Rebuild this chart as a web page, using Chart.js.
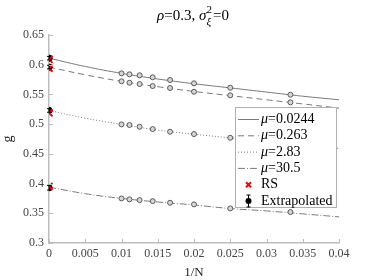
<!DOCTYPE html>
<html>
<head>
<meta charset="utf-8">
<script src="https://cdn.jsdelivr.net/npm/chart.js@4"></script>
<style>
  html, body { margin: 0; padding: 0; background: #fff; }
  #wrap { width: 374px; height: 280px; }
</style>
</head>
<body>
<div id="wrap"><canvas id="myChart" width="374" height="280"></canvas></div>
<script>
// 1/N of the simulated sizes (N = 100, 90, 80, 70, 60, 50, 40, 30)
const invN = [0.0100, 0.0111, 0.0125, 0.0143, 0.0167, 0.0200, 0.0250, 0.0333];
const muLabels = ['0.0244', '0.263', '2.83', '30.5'];

// simulated g at each 1/N
const gMu1 = [0.5855, 0.5838, 0.5822, 0.5788, 0.5742, 0.5687, 0.5613, 0.5495];
const gMu2 = [0.5721, 0.5697, 0.5675, 0.5641, 0.5608, 0.5545, 0.5485, 0.5367];
const gMu3 = [0.4996, 0.4985, 0.4956, 0.4917, 0.4872, 0.4833, 0.4771, 0.4680];
const gMu4 = [0.3750, 0.3734, 0.3722, 0.3705, 0.3677, 0.3650, 0.3582, 0.3520];

// fitted curves
const fitX = [0, 0.005, 0.01, 0.015, 0.02, 0.025, 0.03, 0.035, 0.04];
const fitMu1 = [0.611, 0.597, 0.5855, 0.576, 0.568, 0.561, 0.554, 0.547, 0.541];
const fitMu2 = [0.596, 0.583, 0.572, 0.563, 0.555, 0.548, 0.541, 0.534, 0.527];
const fitMu3 = [0.523, 0.510, 0.4996, 0.490, 0.483, 0.477, 0.471, 0.465, 0.459];
const fitMu4 = [0.394, 0.383, 0.375, 0.369, 0.364, 0.358, 0.354, 0.349, 0.344];

// values at 1/N = 0
const extrapG = [0.611, 0.596, 0.523, 0.393];
const extrapErr = [0.003, 0.003, 0.003, 0.004];
const rsG = [0.609, 0.594, 0.519, 0.395];

const xTicks = [0, 0.005, 0.01, 0.015, 0.02, 0.025, 0.03, 0.035, 0.04];
const yTicks = [0.3, 0.35, 0.4, 0.45, 0.5, 0.55, 0.6, 0.65];

const serif = '"Liberation Serif", "DejaVu Serif", serif';
const lineGrey = '#7a7a7a';
const dashes = [[], [6, 4], [1, 2], [7, 2, 1, 2]];

function pts(xs, ys) {
    return xs.map((x, i) => ({ x: x, y: ys[i] }));
}

const fits = [fitMu1, fitMu2, fitMu3, fitMu4];
const sims = [gMu1, gMu2, gMu3, gMu4];

let datasets = [];
// RS drawn on top, then extrapolated, then simulation points, then fits
datasets.push({
    label: 'RS',
    order: 0,
    data: rsG.map(g => ({ x: 0, y: g })),
    showLine: false,
    pointStyle: 'crossRot',
    pointRadius: 5,
    borderColor: '#ff0000',
    borderWidth: 2
});
datasets.push({
    label: 'Extrapolated',
    order: 1,
    data: extrapG.map(g => ({ x: 0, y: g })),
    showLine: false,
    pointStyle: 'circle',
    pointRadius: 3.2,
    backgroundColor: '#000',
    borderColor: '#000',
    borderWidth: 1
});
sims.forEach((s, i) => {
    datasets.push({
        label: 'sim' + i,
        order: 2,
        data: pts(invN, s),
        showLine: false,
        pointStyle: 'circle',
        pointRadius: 2.5,
        borderColor: '#5a5a5a',
        backgroundColor: '#d6d6d6',
        borderWidth: 1
    });
});
fits.forEach((f, i) => {
    datasets.push({
        label: 'μ=' + muLabels[i],
        order: 3,
        data: pts(fitX, f),
        showLine: true,
        borderColor: lineGrey,
        borderWidth: 1,
        borderDash: dashes[i],
        tension: 0.4,
        pointRadius: 0,
        fill: false
    });
});

// error bars on extrapolated points, inward ticks, title, legend
const extras = {
    id: 'extras',
    afterDatasetsDraw(chart) {
        const ctx = chart.ctx;
        const xs = chart.scales.x, ys = chart.scales.y;
        ctx.save();
        ctx.strokeStyle = '#000';
        ctx.lineWidth = 1;
        extrapG.forEach((g, i) => {
            const px = xs.getPixelForValue(0);
            const top = ys.getPixelForValue(g + extrapErr[i]);
            const bot = ys.getPixelForValue(g - extrapErr[i]);
            ctx.beginPath();
            ctx.moveTo(px, top); ctx.lineTo(px, bot);
            ctx.moveTo(px - 2, top); ctx.lineTo(px + 2, top);
            ctx.moveTo(px - 2, bot); ctx.lineTo(px + 2, bot);
            ctx.stroke();
        });
        ctx.restore();
    },
    afterDraw(chart) {
        const ctx = chart.ctx;
        const xs = chart.scales.x, ys = chart.scales.y;
        const area = chart.chartArea;
        ctx.save();
        // inward ticks
        ctx.strokeStyle = '#bdbdbd';
        ctx.lineWidth = 1;
        xTicks.forEach(v => {
            const px = Math.round(xs.getPixelForValue(v)) + 0.5;
            ctx.beginPath();
            ctx.moveTo(px, area.bottom); ctx.lineTo(px, area.bottom - 4);
            ctx.stroke();
        });
        yTicks.forEach(v => {
            const py = Math.round(ys.getPixelForValue(v)) + 0.5;
            ctx.beginPath();
            ctx.moveTo(area.left, py); ctx.lineTo(area.left + 4, py);
            ctx.stroke();
        });

        // title with super/subscript
        ctx.fillStyle = '#000';
        ctx.textBaseline = 'alphabetic';
        ctx.textAlign = 'left';
        const parts = [
            { t: 'ρ', f: 'italic 15px ' + serif },
            { t: '=0.3, ', f: '15px ' + serif },
            { t: 'σ', f: 'italic 15px ' + serif }
        ];
        let w = 0;
        parts.forEach(p => { ctx.font = p.f; w += ctx.measureText(p.t).width; });
        ctx.font = '11px ' + serif;
        const supW = ctx.measureText('2').width;
        ctx.font = '15px ' + serif;
        w += supW + 1 + ctx.measureText('=0').width;
        let x = 193 - w / 2;
        const base = 20;
        parts.forEach(p => {
            ctx.font = p.f;
            ctx.fillText(p.t, x, base);
            x += ctx.measureText(p.t).width;
        });
        ctx.font = '11px ' + serif;
        ctx.fillText('2', x, base - 7);
        ctx.font = 'italic 11px ' + serif;
        ctx.fillText('ξ', x, base + 5);
        x += supW + 1;
        ctx.font = '15px ' + serif;
        ctx.fillText('=0', x, base);

        // legend box
        const lx = 235.5, ly = 107.5, lw = 101, lh = 100;
        ctx.fillStyle = '#fff';
        ctx.fillRect(lx, ly, lw, lh);
        ctx.strokeStyle = '#b0b0b0';
        ctx.strokeRect(lx, ly, lw, lh);
        const rowY = i => 119.5 + i * 16.3;
        for (let i = 0; i < 4; i++) {
            const yy = rowY(i);
            ctx.strokeStyle = lineGrey;
            ctx.setLineDash(dashes[i]);
            ctx.beginPath();
            ctx.moveTo(238, yy); ctx.lineTo(259, yy);
            ctx.stroke();
            ctx.setLineDash([]);
            ctx.fillStyle = '#000';
            ctx.textBaseline = 'middle';
            ctx.font = 'italic 14px ' + serif;
            ctx.fillText('μ', 261, yy);
            const mw = ctx.measureText('μ').width;
            ctx.font = '14px ' + serif;
            ctx.fillText('=' + muLabels[i], 261 + mw, yy);
        }
        // RS entry
        let yy = rowY(4);
        ctx.strokeStyle = '#ff0000';
        ctx.lineWidth = 2;
        ctx.beginPath();
        ctx.moveTo(246, yy - 2.5); ctx.lineTo(251, yy + 2.5);
        ctx.moveTo(251, yy - 2.5); ctx.lineTo(246, yy + 2.5);
        ctx.stroke();
        ctx.fillStyle = '#000';
        ctx.font = '14px ' + serif;
        ctx.fillText('RS', 261, yy);
        // extrapolated entry
        yy = rowY(5);
        ctx.strokeStyle = '#000';
        ctx.lineWidth = 1;
        ctx.beginPath();
        ctx.moveTo(248.5, yy - 6); ctx.lineTo(248.5, yy + 6);
        ctx.moveTo(246.5, yy - 6); ctx.lineTo(250.5, yy - 6);
        ctx.moveTo(246.5, yy + 6); ctx.lineTo(250.5, yy + 6);
        ctx.stroke();
        ctx.beginPath();
        ctx.arc(248.5, yy, 3, 0, Math.PI * 2);
        ctx.fill();
        ctx.fillText('Extrapolated', 261, yy);
        ctx.restore();
    }
};

function buildChart() {
    const ctx = document.getElementById('myChart');
    new Chart(ctx, {
        type: 'scatter',
        data: { datasets: datasets },
        options: {
            responsive: false,
            animation: false,
            layout: { padding: { top: 35, right: 35, left: 0, bottom: 0 } },
            plugins: {
                legend: { display: false },
                tooltip: { enabled: false },
                title: { display: false }
            },
            scales: {
                x: {
                    type: 'linear',
                    min: 0,
                    max: 0.04,
                    afterBuildTicks: s => { s.ticks = xTicks.map(v => ({ value: v })); },
                    afterFit: s => { s.height = 37; },
                    grid: { display: false, drawTicks: false },
                    border: { display: true, color: '#bdbdbd', width: 1.5 },
                    ticks: {
                        color: '#444',
                        font: { family: serif, size: 12 },
                        padding: 4,
                        maxRotation: 0,
                        autoSkip: false,
                        callback: v => String(parseFloat(v.toFixed(3)))
                    },
                    title: {
                        display: true,
                        text: '1/N',
                        color: '#222',
                        font: { family: serif, size: 13 },
                        padding: { top: 2, bottom: 0 }
                    }
                },
                y: {
                    type: 'linear',
                    min: 0.3,
                    max: 0.65,
                    afterBuildTicks: s => { s.ticks = yTicks.map(v => ({ value: v })); },
                    afterFit: s => { s.width = 49; },
                    grid: { display: false, drawTicks: false },
                    border: { display: true, color: '#bdbdbd', width: 1.5 },
                    ticks: {
                        color: '#444',
                        font: { family: serif, size: 12 },
                        padding: 5,
                        autoSkip: false,
                        callback: v => String(parseFloat(v.toFixed(2)))
                    },
                    title: {
                        display: true,
                        text: 'g',
                        color: '#222',
                        font: { family: serif, size: 14 },
                        padding: { top: 0, bottom: 2 }
                    }
                }
            }
        },
        plugins: [extras]
    });
}

// make sure the serif faces are loaded before drawing on the canvas
Promise.all([
    document.fonts.load('12px "Liberation Serif"'),
    document.fonts.load('italic 14px "Liberation Serif"'),
    document.fonts.load('12px "DejaVu Serif"')
]).catch(() => {}).then(buildChart);
</script>
</body>
</html>
